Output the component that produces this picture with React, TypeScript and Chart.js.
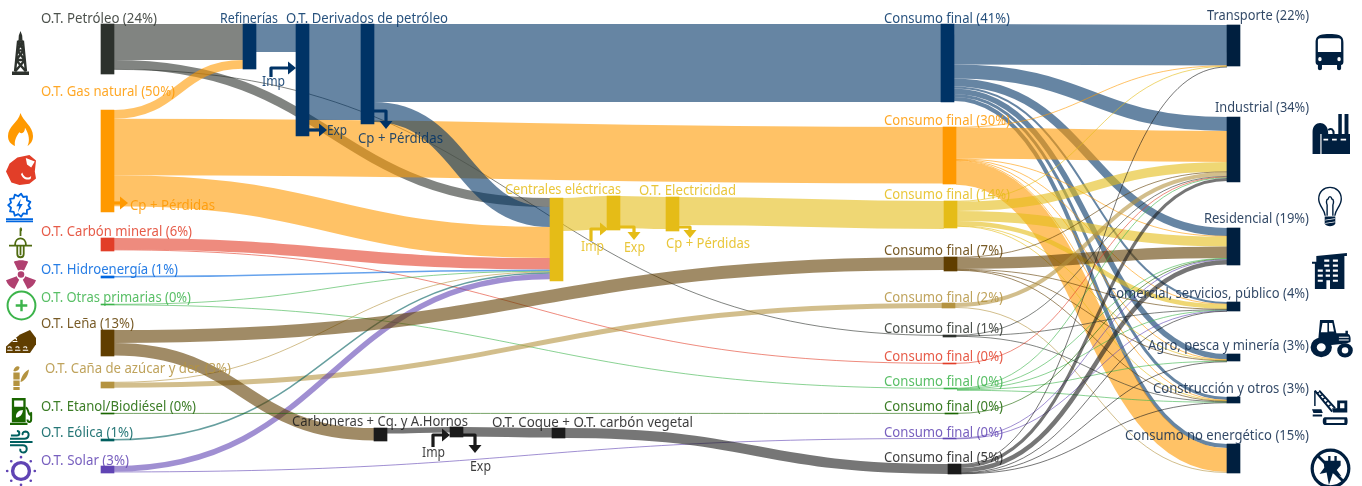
import React, { useEffect, useRef } from "react";
import { Chart, registerables } from "chart.js";
Chart.register(...registerables);

const W = 1362, H = 486;
const FONT = '"Noto Sans", sans-serif';
const FS = 13.5;

// ---- nodes ----
const nodeIds = ["pet","ref","der1","der2","gas","car","hid","otr","len","can","eta","eol","sol",
  "c41","c30","cen","el1","el2","c14","c7","cb1","cb2","cb3","c2","c1","cR","cG","cE","cP","c5",
  "tra","ind","res","com","agr","con","noe"];
const nodeLeft = [101,243,296,361,101,101,101,101,101,101,101,101,101,
  941,943,550,607,666,944,944,374,450,552,942,943,943,944,945,943,948,
  1227,1227,1227,1227,1227,1227,1227];
const nodeTop = [24,24,24,24,110,238,276,304,330,382,413,439,466,
  24,127,198,196,197,201,257,428,427,428,303,335,363,388,413,438,464,
  25,117,228,302,354,397,444];
const nodeBottom = [74,69,136,124,212,251,278,305,356,388,414,441,473,
  102,184,281,230,231,228,271,441,437,438,308,337,364,389,414,439,474,
  66,182,265,311,361,403,473];
const NAVY="#003366",OR="#ff9900",YE="#e5bc17",BR="#603e00",TA="#b49340",GY="#2d322d",RE="#e23e28",
  GR="#3cb44b",DG="#1a6600",PU="#6044b4",BK="#1a1a1a",SE="#001f3f",BL="#0066e0",TE="#005f5f";
const nodeColor = [GY,NAVY,NAVY,NAVY,OR,RE,BL,GR,BR,TA,DG,TE,PU,
  NAVY,OR,YE,YE,YE,YE,BR,BK,BK,BK,TA,GY,RE,GR,DG,PU,BK,
  SE,SE,SE,SE,SE,SE,SE];

// ---- flows ----
const flowFrom = ["pet","pet","pet","gas","gas","gas","ref","der1","der2","der2","car","car","hid","otr","otr","can","can","eol","sol","sol","len","len","eta",
  "cen","el1","el2","cb1","cb2","cb3",
  "c41","c41","c41","c41","c41","c41","c41",
  "c30","c30","c30","c30","c30","c30","c30",
  "c14","c14","c14","c14","c14","c14",
  "c7","c7","c7","c7","c7",
  "c2","c2",
  "c1","c1","c1",
  "cR",
  "cG","cG","cG","cG","cG",
  "cE",
  "cP","cP",
  "c5","c5","c5","c5","c5","c5"];
const flowTo = ["ref","cen","c1","ref","c30","cen","der1","der2","c41","cen","cen","cR","cen","cen","cG","cen","c2","cen","cen","cP","c7","cb1","cE",
  "el1","el2","c14","cb2","cb3","c5",
  "tra","ind","res","com","agr","con","noe",
  "tra","ind","res","com","agr","con","noe",
  "tra","ind","res","com","agr","con",
  "ind","res","com","agr","con",
  "ind","noe",
  "ind","com","con",
  "ind",
  "ind","res","com","agr","con",
  "res",
  "res","com",
  "tra","ind","res","com","agr","con"];
const flowValue = [36,9,0.8,8.8,56.5,31,28,96,78,20,11.5,0.7,1.5,0.6,0.6,0.7,5,1.5,5.5,0.9,13,12.5,0.8,
  33,32,28,5.5,9.5,10,
  40.5,14,8,2,5.5,3,4,
  0.6,31,0.6,0.5,0.5,0.5,24,
  0.5,9.5,10,4.5,0.5,0.5,
  0.6,11.5,0.5,0.5,0.5,
  4,0.9,
  0.6,0.5,0.5,
  0.7,
  0.5,0.5,0.5,0.5,0.5,
  0.7,
  0.6,0.5,
  0.8,3.2,4.5,0.5,0.5,0.5];

// ---- texts ----
const textLabels = ["O.T. Petróleo (24%)","O.T. Gas natural (50%)","O.T. Carbón mineral (6%)","O.T. Hidroenergía (1%)","O.T. Otras primarias (0%)","O.T. Leña (13%)","O.T. Caña de azúcar y der. (3%)","O.T. Etanol/Biodiésel (0%)","O.T. Eólica (1%)","O.T. Solar (3%)",
  "Refinerías","O.T. Derivados de petróleo","Imp","Exp","Cp + Pérdidas","Cp + Pérdidas","Centrales eléctricas","O.T. Electricidad","Imp","Exp","Cp + Pérdidas","Carboneras + Cq. y A.Hornos","O.T. Coque + O.T. carbón vegetal","Imp","Exp",
  "Consumo final (41%)","Consumo final (30%)","Consumo final (14%)","Consumo final (7%)","Consumo final (2%)","Consumo final (1%)","Consumo final (0%)","Consumo final (0%)","Consumo final (0%)","Consumo final (0%)","Consumo final (5%)"];
const textX = [41,41,41,41,41,41,45,41,41,41, 220,286,262,327,358,130,505,639,581,624,666,292,492,422,470, 884,884,884,884,884,884,884,884,884,884,884];
const textEnd = [157,175,192,178,191,134,231,196,133,129, 278,448,285,347,443,215,621,736,604,645,750,468,693,445,491, 1010,1010,1010,1003,1003,1003,1003,1003,1003,1003,1003];
const textY = [19,92,232,270,298,324,369,407,433,461, 19,19,82,131,139,206,190,191,247,248,244,422,423,453,467, 19,121,195,251,298,329,357,382,407,433,458];
const textColor = [GY,OR,RE,BL,GR,BR,TA,DG,TE,PU, NAVY,NAVY,NAVY,NAVY,NAVY,OR,YE,YE,YE,YE,YE,BK,BK,BK,BK, NAVY,OR,YE,BR,TA,GY,RE,GR,DG,PU,BK];
const sectorLabels = ["Transporte (22%)","Industrial (34%)","Residencial (19%)","Comercial, servicios, público (4%)","Agro, pesca y minería (3%)","Construcción y otros (3%)","Consumo no energético (15%)"];
const sectorY = [16,108,219,294,346,389,436];
const sectorStart = [1207,1215,1204,1108,1148,1153,1125];

// ---- side arrows (polyline in chart units, last point = tip) ----
const arrows: [string, number[][]][] = [
  [NAVY,[[271,77],[271,68],[296,68]]],
  [NAVY,[[309,130],[327,130]]],
  [NAVY,[[374,111],[386,111],[386,129]]],
  [OR,[[114,203],[128,203]]],
  [YE,[[591,241],[591,229],[608,229]]],
  [YE,[[620,227],[634,227],[634,240]]],
  [YE,[[679,227],[690,227],[690,238]]],
  [BK,[[433,447],[433,435],[450,435]]],
  [BK,[[463,435],[475,435],[475,453]]],
];

// ---- icons: box [x0,y0,x1,y1], colour, parts in a 100x100 box ----
type Part = [string, string, number?];
const circ = (x:number,y:number,r:number)=>`M${x-r} ${y}a${r} ${r} 0 1 0 ${2*r} 0a${r} ${r} 0 1 0 ${-2*r} 0Z`;
const gear = (()=>{let s="";const n=11;for(let i=0;i<n*2;i++){const a=i*Math.PI/n,r=i%2?40:31;s+=(i?"L":"M")+(50+r*1.05*Math.cos(a)).toFixed(1)+" "+(42+r*Math.sin(a)).toFixed(1);}return s+"Z";})();
const sunDots = [0,1,2,3,4,5,6,7].map(i=>circ(50+46*Math.cos(i*Math.PI/4),50+46*Math.sin(i*Math.PI/4),4.5)).join("");
const icons: {b:number[],c:string,p:Part[]}[] = [
  {b:[12,31,29,75],c:GY,p:[["f","M50 0L60 10L62 22H38L40 10Z M0 92H100V100H0Z"],["s","M18 92L36 22 M82 92L64 22 M36 24H64 M30 44H70 M24 66H76 M36 24L70 44 M64 24L30 44 M30 44L76 66 M70 44L24 66 M24 66L82 92 M76 66L18 92",2.4]]},
  {b:[8,113,33,146],c:OR,p:[["f","M50 0C60 25 100 40 100 70C100 85 90 95 78 100C88 85 85 65 68 45C68 60 55 65 45 58C30 75 25 85 28 100C10 95 0 85 0 70C0 40 40 30 50 0Z"]]},
  {b:[6,155,36,185],c:RE,p:[["f","M38 8L78 0L100 18L96 55L100 78L78 96L45 100L18 92L0 55L12 28Z"],["w","M66 10L96 22L84 42L70 32Z M54 58C60 75 72 80 84 70L82 80C66 86 54 76 50 64Z"]]},
  {b:[6,193,33,222],c:BL,p:[["s",gear,1.8],["f","M55 20L38 46H49L44 66L62 38H51Z"],["s","M0 90H100 M0 98H100",1.6]]},
  {b:[9,227,32,259],c:"#4f6b10",p:[["s","M50 4V28 M26 58C26 28 74 28 74 58 M0 58H100 M36 58V84C36 98 64 98 64 84V58 M50 58V88",1.8],["f","M50 0C60 4 58 14 50 14Z"]]},
  {b:[6,260,36,289],c:"#b04070",p:[["f","M26 6C40 -1 60 -1 74 6L60 36C54 33 46 33 40 36Z M0 70L36 56C38 62 40 65 44 68L28 100C14 94 4 84 0 70Z M100 70L64 56C62 62 60 65 56 68L72 100C86 94 96 84 100 70Z"+circ(50,50,11)]]},
  {b:[7,291,36,320],c:GR,p:[["s",circ(50,50,48),2],["s","M50 30V70 M30 50H70",2.4]]},
  {b:[6,330,36,353],c:BR,p:[["f","M0 100V72L25 42L47 20L80 0L100 35V62L80 100Z"],["ws","M24 40C30 34 38 38 34 44 M22 50H38 M32 76C38 70 46 74 42 80 M30 88H48 M6 76C12 70 20 74 16 80 M4 88H22 M58 76C64 70 72 74 68 80 M56 88H74",1.1]]},
  {b:[12,365,29,390],c:TA,p:[["f","M8 30H45V58H8Z M8 62H45V84H8Z M8 88H45V100H8Z M8 24C12 6 36 0 44 8C46 18 28 28 8 24Z M50 68C54 44 78 24 100 18C96 44 76 64 50 68Z"]]},
  {b:[10,398,33,425],c:DG,p:[["f","M8 0H68V90H8Z M0 92H76V100H0Z"],["w","M18 9H58V32H18Z M26 72C24 54 40 44 56 44C56 60 42 72 26 72Z"],["s","M68 35C80 38 76 50 84 60C92 70 92 45 92 60V80C92 92 76 92 76 80",2]]},
  {b:[10,430,33,453],c:TE,p:[["s","M0 38H62C84 38 88 8 68 6C56 6 52 16 56 22 M0 52H98 M0 66H56C78 66 78 98 58 98C46 98 42 88 46 82 M4 24H30C44 24 44 4 30 4",2]]},
  {b:[6,456,36,486],c:PU,p:[["s",circ(50,50,28),3.4],["f",sunDots]]},
  {b:[1315,34,1344,70],c:SE,p:[["f","M18 3C35 -1 65 -1 82 3C94 6 98 14 98 24V78C98 84 94 86 90 86V96C90 102 76 102 76 96V86H24V96C24 102 10 102 10 96V86C6 86 2 84 2 78V24C2 14 6 6 18 3Z"],["w","M10 18C10 14 14 12 18 12H82C86 12 90 14 90 18V50H10Z"+circ(17,70,6)+circ(83,70,6)]]},
  {b:[1311,114,1350,154],c:SE,p:[["f","M4 100V45C4 15 42 15 44 45V100Z M70 0H79V50H70Z M86 0H96V50H86Z"],["f","M24 50H100V100H24Z"],["w","M24 50H27V100H24Z M32 62H44V66H32Z M54 62H66V66H54Z M76 62H90V66H76Z"],["s","M44 40C52 35 58 38 58 50",2]]},
  {b:[1318,187,1342,227],c:SE,p:[["s","M30 72C28 55 3 48 3 30C3 12 24 1 50 1C76 1 97 12 97 30C97 48 72 55 70 72 M38 72V45C34 40 34 30 42 30C46 22 54 22 58 30C66 30 66 40 62 45V72",1.4],["f","M28 74H72V92C66 100 34 100 28 92Z"],["w","M30 82L70 78V80L30 84Z M30 90L70 86V88L30 92Z"]]},
  {b:[1312,253,1348,289],c:SE,p:[["f","M12 8L97 0V8L90 8V100H8V30H0V24H12Z"],["w","M34 18H48V24H34Z M58 18H72V24H58Z M34 32H48V38H34Z M58 32H72V38H58Z M16 46H30V52H16Z M38 46H50V52H38Z M58 46H72V52H58Z M16 60H30V66H16Z M38 60H50V66H38Z M58 60H72V66H58Z M16 74H30V80H16Z M58 74H72V80H58Z M40 76H50V100H40Z"]]},
  {b:[1311,320,1352,358],c:SE,p:[["f","M22 0H55L62 35H84V28H90V36C96 38 98 48 96 58L86 62L50 66L26 52L18 48Z"],["w","M28 8H40V32H24Z M44 8H52L56 30H44Z M68 44H92V47H68Z M68 51H92V54H68Z"],["f",circ(25,72,26)+circ(83,80,19)],["w",circ(25,72,11)+circ(83,80,8)]]},
  {b:[1312,390,1348,425],c:SE,p:[["s","M8 2L56 62 M20 2L64 52",2],["s","M12 8H20 M20 18L28 14 M28 28L36 22 M36 38L44 32 M44 48L52 42",1.6],["s","M8 2V46",1.5],["f","M56 52H70V30H98V64H58Z M0 55H26L30 66H4Z M2 70H28V76H2Z M36 78C32 78 30 82 30 88V92C30 98 34 100 38 100H96C100 100 100 78 96 78Z"],["w","M78 38H90V52H78Z M40 84H90V94H40Z"]]},
  {b:[1311,449,1350,488],c:SE,p:[["s",circ(50,50,47),3.2],["s","M18 18L82 82",2.8],["f","M32 30H44V18H50V30H60V18H66V30H76V42L66 54L78 70L56 62L46 92L40 60L22 64L34 48Z"]]},
];

const sankeyPlugin = {
  id:"sankey",
  beforeDatasetsDraw(chart:any){
    const {ctx,scales:{x,y}}=chart;
    const px=(v:number)=>x.getPixelForValue(v), py=(v:number)=>y.getPixelForValue(v);
    const idx=(id:string)=>nodeIds.indexOf(id);
    const sorder=flowFrom.map((_,i)=>i);
    const outOff:Record<string,number>={}, inOff:Record<string,number>={};
    const src:number[]=[], tgt:number[]=[];
    [...sorder].sort((a,b)=>idx(flowTo[a])-idx(flowTo[b])).forEach(i=>{
      const k=flowFrom[i]; outOff[k]=outOff[k]??nodeTop[idx(k)]; src[i]=outOff[k]; outOff[k]+=flowValue[i];
    });
    [...sorder].sort((a,b)=>idx(flowFrom[a])-idx(flowFrom[b])).forEach(i=>{
      const k=flowTo[i]; inOff[k]=inOff[k]??nodeTop[idx(k)]; tgt[i]=inOff[k]; inOff[k]+=flowValue[i];
    });
    ctx.save();
    ctx.globalAlpha=0.6; ctx.lineCap="butt";
    sorder.forEach(i=>{
      const a=idx(flowFrom[i]), b=idx(flowTo[i]), v=flowValue[i];
      const x0=px(nodeLeft[a]+13), x1=px(nodeLeft[b]);
      const y0=py(src[i]+v/2), y1=py(tgt[i]+v/2), m=(x0+x1)/2;
      ctx.strokeStyle=nodeColor[a];
      ctx.lineWidth=Math.max(v,1);
      ctx.beginPath();
      ctx.moveTo(x0,y0);
      ctx.bezierCurveTo(m,y0,m,y1,x1,y1);
      ctx.stroke();
    });
    ctx.restore();
  },
  afterDatasetsDraw(chart:any){
    const {ctx,scales:{x,y}}=chart;
    const px=(v:number)=>x.getPixelForValue(v), py=(v:number)=>y.getPixelForValue(v);
    ctx.save();
    arrows.forEach(([c,pts])=>{
      const n=pts.length, tip=pts[n-1], prev=pts[n-2];
      const dx=Math.sign(tip[0]-prev[0]), dy=Math.sign(tip[1]-prev[1]);
      const L=8,HW=6.5;
      ctx.strokeStyle=c; ctx.fillStyle=c; ctx.lineWidth=3.2; ctx.lineJoin="round";
      ctx.beginPath();
      pts.forEach((p,i)=>{
        const q=i===n-1?[p[0]-dx*L,p[1]-dy*L]:p;
        i?ctx.lineTo(px(q[0]),py(q[1])):ctx.moveTo(px(q[0]),py(q[1]));
      });
      ctx.stroke();
      ctx.beginPath();
      ctx.moveTo(px(tip[0]),py(tip[1]));
      ctx.lineTo(px(tip[0]-dx*L-dy*HW),py(tip[1]-dy*L-dx*HW));
      ctx.lineTo(px(tip[0]-dx*L+dy*HW),py(tip[1]-dy*L+dx*HW));
      ctx.closePath(); ctx.fill();
    });
    icons.forEach(ic=>{
      const [a,b,c,d]=ic.b; const sx=(c-a)/100, sy=(d-b)/100;
      ic.p.forEach(([k,path,lw])=>{
        const p=new Path2D(); p.addPath(new Path2D(path),new DOMMatrix([sx,0,0,sy,a,b]));
        if(k==="s"||k==="ws"){ctx.strokeStyle=k==="ws"?"#fff":ic.c;ctx.lineWidth=lw||1;ctx.stroke(p);}
        else{ctx.fillStyle=k==="w"?"#fff":ic.c;ctx.fill(p,"evenodd");}
      });
    });
    ctx.textBaseline="middle"; ctx.font=`${FS}px ${FONT}`; ctx.textAlign="left";
    textLabels.forEach((t,i)=>{
      ctx.fillStyle=textColor[i]; ctx.globalAlpha=0.85;
      ctx.fillText(t,px(textX[i]),py(textY[i]),px(textEnd[i])-px(textX[i]));
    });
    sectorLabels.forEach((t,i)=>{
      ctx.fillStyle="#1a3354"; ctx.globalAlpha=0.9;
      ctx.fillText(t,px(sectorStart[i]),py(sectorY[i]),px(1309)-px(sectorStart[i]));
    });
    ctx.restore();
  }
};

export default function App(){
  const ref=useRef<HTMLCanvasElement>(null);
  useEffect(()=>{
    document.body.style.margin="0";
    const chart=new Chart(ref.current!,{
      type:"bar",
      data:{datasets:[{
        label:"Nodos",
        data:nodeIds.map((_,i)=>({x:nodeLeft[i]+6.5,y:[nodeTop[i],nodeBottom[i]]})) as any,
        backgroundColor:nodeColor,
        barThickness:13,
        borderWidth:0,
        grouped:false,
      } as any]},
      options:{
        responsive:false,animation:false,
        layout:{padding:0},
        plugins:{legend:{display:false},tooltip:{enabled:false}},
        scales:{
          x:{type:"linear",min:0,max:W,display:false,offset:false},
          y:{type:"linear",min:0,max:H,reverse:true,display:false},
        },
      },
      plugins:[sankeyPlugin],
    });
    return ()=>chart.destroy();
  },[]);
  return <canvas ref={ref} width={W} height={H} style={{display:"block",width:W,height:H}}/>;
}
